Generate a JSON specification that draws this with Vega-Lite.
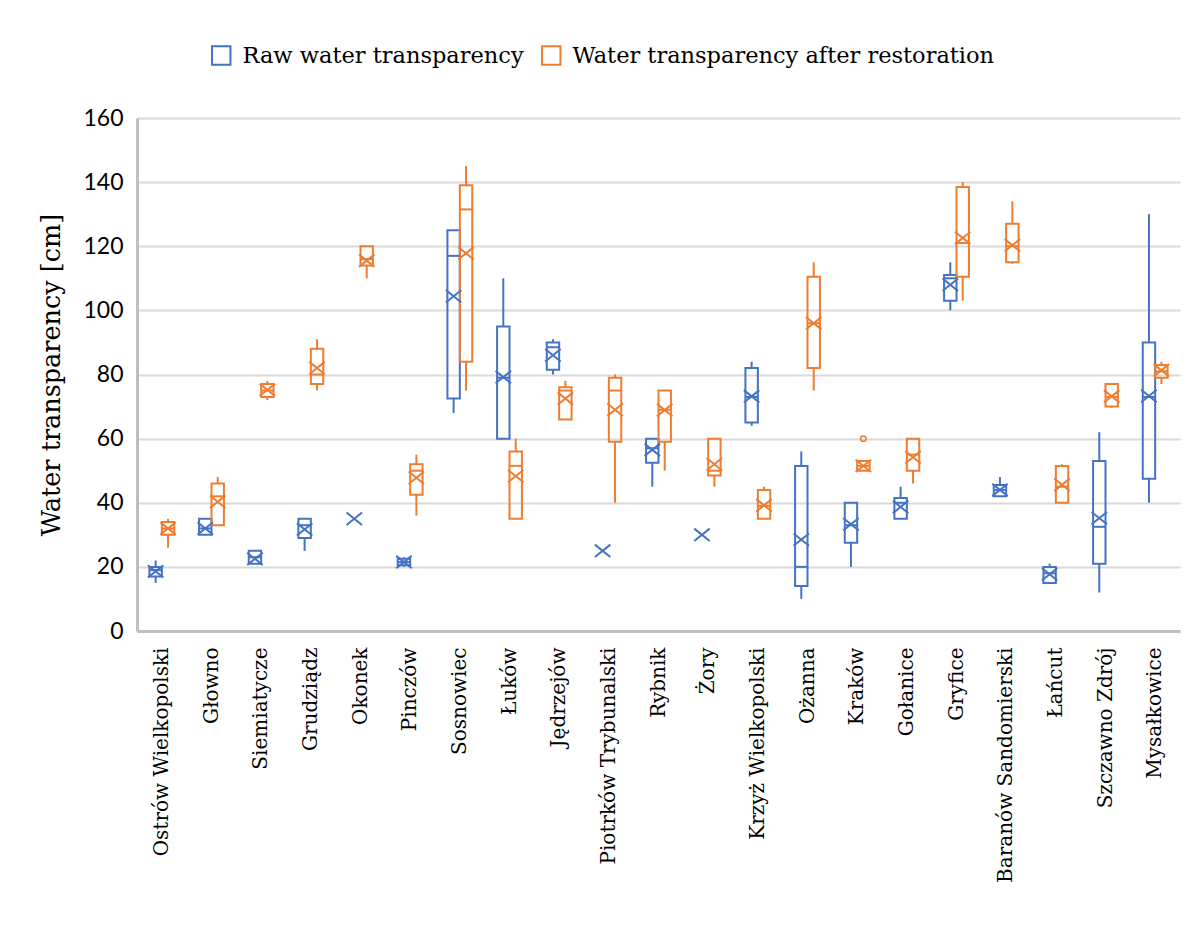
{
  "$schema": "https://vega.github.io/schema/vega-lite/v6.json",
  "autosize": {"type": "none"},
  "padding": {"left": 137, "top": 118, "right": 11, "bottom": 300},
  "width": 1043,
  "height": 513,
  "background": "white",
  "config": {
    "view": {"stroke": null},
    "axis": {"labelColor": "#000000", "titleColor": "#000000"}
  },
  "data": {
    "values": [
      {"site": "Ostrów Wielkopolski", "series": "Raw water transparency", "min": 15, "q1": 17, "median": 19, "q3": 20, "max": 22, "mean": 18.6, "outlier": null},
      {"site": "Ostrów Wielkopolski", "series": "Water transparency after restoration", "min": 26, "q1": 30, "median": 32, "q3": 34, "max": 35, "mean": 32, "outlier": null},
      {"site": "Głowno", "series": "Raw water transparency", "min": 30, "q1": 30, "median": 32, "q3": 35, "max": 35, "mean": 32, "outlier": null},
      {"site": "Głowno", "series": "Water transparency after restoration", "min": 33, "q1": 33, "median": 42, "q3": 46, "max": 48, "mean": 40.3, "outlier": null},
      {"site": "Siemiatycze", "series": "Raw water transparency", "min": 21, "q1": 21, "median": 23, "q3": 25, "max": 25, "mean": 22.5, "outlier": null},
      {"site": "Siemiatycze", "series": "Water transparency after restoration", "min": 72, "q1": 73, "median": 75, "q3": 77, "max": 78, "mean": 75.2, "outlier": null},
      {"site": "Grudziądz", "series": "Raw water transparency", "min": 25, "q1": 29, "median": 33, "q3": 35, "max": 35, "mean": 31.7, "outlier": null},
      {"site": "Grudziądz", "series": "Water transparency after restoration", "min": 75, "q1": 77, "median": 80, "q3": 88, "max": 91, "mean": 82, "outlier": null},
      {"site": "Okonek", "series": "Raw water transparency", "min": null, "q1": null, "median": null, "q3": null, "max": null, "mean": 35, "outlier": null},
      {"site": "Okonek", "series": "Water transparency after restoration", "min": 110, "q1": 114, "median": 116, "q3": 120, "max": 120, "mean": 115.5, "outlier": null},
      {"site": "Pinczów", "series": "Raw water transparency", "min": 20, "q1": 20.5, "median": 21.5, "q3": 22.5, "max": 23, "mean": 21.5, "outlier": null},
      {"site": "Pinczów", "series": "Water transparency after restoration", "min": 36, "q1": 42.5, "median": 50, "q3": 52, "max": 55, "mean": 47.8, "outlier": null},
      {"site": "Sosnowiec", "series": "Raw water transparency", "min": 68, "q1": 72.5, "median": 117, "q3": 125, "max": 125, "mean": 104.4, "outlier": null},
      {"site": "Sosnowiec", "series": "Water transparency after restoration", "min": 75, "q1": 84, "median": 131.5, "q3": 139, "max": 145, "mean": 117.8, "outlier": null},
      {"site": "Łuków", "series": "Raw water transparency", "min": 60, "q1": 60, "median": 79, "q3": 95, "max": 110, "mean": 79.2, "outlier": null},
      {"site": "Łuków", "series": "Water transparency after restoration", "min": 35, "q1": 35, "median": 51.5, "q3": 56, "max": 60, "mean": 48.3, "outlier": null},
      {"site": "Jędrzejów", "series": "Raw water transparency", "min": 80, "q1": 81.5, "median": 88.5, "q3": 90, "max": 91, "mean": 86, "outlier": null},
      {"site": "Jędrzejów", "series": "Water transparency after restoration", "min": 66, "q1": 66, "median": 75, "q3": 76, "max": 78, "mean": 72.5, "outlier": null},
      {"site": "Piotrków Trybunalski", "series": "Raw water transparency", "min": null, "q1": null, "median": null, "q3": null, "max": null, "mean": 25, "outlier": null},
      {"site": "Piotrków Trybunalski", "series": "Water transparency after restoration", "min": 40, "q1": 59, "median": 75, "q3": 79, "max": 80, "mean": 69, "outlier": null},
      {"site": "Rybnik", "series": "Raw water transparency", "min": 45, "q1": 52.5, "median": 57, "q3": 60, "max": 60, "mean": 56.5, "outlier": null},
      {"site": "Rybnik", "series": "Water transparency after restoration", "min": 50, "q1": 59, "median": 69, "q3": 75, "max": 75, "mean": 68.9, "outlier": null},
      {"site": "Żory", "series": "Raw water transparency", "min": null, "q1": null, "median": null, "q3": null, "max": null, "mean": 30, "outlier": null},
      {"site": "Żory", "series": "Water transparency after restoration", "min": 45, "q1": 48.5, "median": 50, "q3": 60, "max": 60, "mean": 52, "outlier": null},
      {"site": "Krzyż Wielkopolski", "series": "Raw water transparency", "min": 64, "q1": 65, "median": 73, "q3": 82, "max": 84, "mean": 73.2, "outlier": null},
      {"site": "Krzyż Wielkopolski", "series": "Water transparency after restoration", "min": 35, "q1": 35, "median": 39, "q3": 44, "max": 45, "mean": 39.2, "outlier": null},
      {"site": "Ożanna", "series": "Raw water transparency", "min": 10, "q1": 14, "median": 20, "q3": 51.5, "max": 56, "mean": 28.5, "outlier": null},
      {"site": "Ożanna", "series": "Water transparency after restoration", "min": 75, "q1": 82, "median": 96, "q3": 110.5, "max": 115, "mean": 96, "outlier": null},
      {"site": "Kraków", "series": "Raw water transparency", "min": 20, "q1": 27.5, "median": 33, "q3": 40, "max": 40, "mean": 33.3, "outlier": null},
      {"site": "Kraków", "series": "Water transparency after restoration", "min": 50, "q1": 50, "median": 51.5, "q3": 53, "max": 53, "mean": 51.5, "outlier": 60},
      {"site": "Gołanice", "series": "Raw water transparency", "min": 35, "q1": 35, "median": 40, "q3": 41.5, "max": 45, "mean": 38.7, "outlier": null},
      {"site": "Gołanice", "series": "Water transparency after restoration", "min": 46, "q1": 50, "median": 55, "q3": 60, "max": 60, "mean": 54.2, "outlier": null},
      {"site": "Gryfice", "series": "Raw water transparency", "min": 100, "q1": 103, "median": 110, "q3": 111, "max": 115, "mean": 108, "outlier": null},
      {"site": "Gryfice", "series": "Water transparency after restoration", "min": 103, "q1": 110.5, "median": 121, "q3": 138.5, "max": 140, "mean": 122.6, "outlier": null},
      {"site": "Baranów Sandomierski", "series": "Raw water transparency", "min": 42, "q1": 42, "median": 44, "q3": 45.5, "max": 48, "mean": 44, "outlier": null},
      {"site": "Baranów Sandomierski", "series": "Water transparency after restoration", "min": 114.5, "q1": 115, "median": 120, "q3": 127, "max": 134, "mean": 120.3, "outlier": null},
      {"site": "Łańcut", "series": "Raw water transparency", "min": 15, "q1": 15, "median": 18, "q3": 20, "max": 21, "mean": 17.7, "outlier": null},
      {"site": "Łańcut", "series": "Water transparency after restoration", "min": 40, "q1": 40, "median": 45, "q3": 51.5, "max": 52, "mean": 45.6, "outlier": null},
      {"site": "Szczawno Zdrój", "series": "Raw water transparency", "min": 12, "q1": 21, "median": 32.5, "q3": 53, "max": 62, "mean": 35.2, "outlier": null},
      {"site": "Szczawno Zdrój", "series": "Water transparency after restoration", "min": 69.5, "q1": 70, "median": 73, "q3": 77, "max": 77, "mean": 73.2, "outlier": null},
      {"site": "Mysałkowice", "series": "Raw water transparency", "min": 40, "q1": 47.5, "median": 73, "q3": 90, "max": 130, "mean": 73.3, "outlier": null},
      {"site": "Mysałkowice", "series": "Water transparency after restoration", "min": 77, "q1": 79, "median": 81, "q3": 83, "max": 84, "mean": 81.3, "outlier": null}
    ]
  },
  "encoding": {
    "x": {
      "field": "site",
      "type": "nominal",
      "sort": null,
      "scale": {"paddingInner": 0, "paddingOuter": 0},
      "axis": {
        "title": null,
        "labelAngle": -90,
        "labelAlign": "right",
        "labelBaseline": "middle",
        "labelFont": "DejaVu Serif",
        "labelFontSize": 20,
        "labelPadding": 16,
        "ticks": false,
        "domainColor": "#bfbfbf",
        "domainWidth": 3,
        "labelLimit": 400
      }
    },
    "xOffset": {
      "field": "series",
      "type": "nominal",
      "scale": {"domain": ["Raw water transparency", "Water transparency after restoration"], "paddingInner": 0, "paddingOuter": 1.07}
    },
    "color": {
      "field": "series",
      "type": "nominal",
      "scale": {"domain": ["Raw water transparency", "Water transparency after restoration"], "range": ["#4472C4", "#ED7D31"]},
      "legend": {
        "title": null,
        "orient": "none",
        "direction": "horizontal",
        "legendX": 73,
        "legendY": -74,
        "symbolType": "square",
        "symbolSize": 340,
        "symbolStrokeWidth": 2,
        "labelFont": "DejaVu Serif",
        "labelFontSize": 22.5,
        "labelColor": "#000000",
        "labelOffset": 10,
        "columnPadding": 14,
        "labelLimit": 500,
        "encode": {"symbols": {"update": {"fill": {"value": "transparent"}, "fillOpacity": {"value": 0}, "strokeWidth": {"value": 2}}}}
      }
    }
  },
  "layer": [
    {
      "mark": {"type": "rule", "strokeWidth": 2},
      "encoding": {
        "y": {
          "field": "min",
          "type": "quantitative",
          "scale": {"domain": [0, 160]},
          "axis": {
            "values": [0, 20, 40, 60, 80, 100, 120, 140, 160],
            "title": "Water transparency [cm]",
            "titleFont": "DejaVu Serif",
            "titleFontSize": 25.5,
            "titleFontWeight": "normal",
            "titlePadding": 18,
            "labelFont": "Lato",
            "labelFontSize": 23,
            "labelPadding": 14,
            "ticks": false,
            "gridColor": "#d9d9d9",
            "gridWidth": 2,
            "domainColor": "#bfbfbf",
            "domainWidth": 3
          }
        },
        "y2": {"field": "q1"}
      }
    },
    {
      "mark": {"type": "rule", "strokeWidth": 2},
      "encoding": {
        "y": {"field": "q3", "type": "quantitative"},
        "y2": {"field": "max"}
      }
    },
    {
      "mark": {"type": "bar", "filled": false, "strokeWidth": 2},
      "encoding": {
        "y": {"field": "q1", "type": "quantitative"},
        "y2": {"field": "q3"}
      }
    },
    {
      "mark": {"type": "tick", "size": 12, "thickness": 2, "opacity": 1},
      "encoding": {
        "y": {"field": "median", "type": "quantitative"}
      }
    },
    {
      "mark": {"type": "point", "shape": "M-1,-0.8L1,0.8M-1,0.8L1,-0.8", "size": 240, "filled": false, "strokeWidth": 2, "opacity": 1},
      "encoding": {
        "y": {"field": "mean", "type": "quantitative"}
      }
    },
    {
      "mark": {"type": "point", "shape": "circle", "size": 30, "filled": false, "strokeWidth": 1.5, "opacity": 1},
      "encoding": {
        "y": {"field": "outlier", "type": "quantitative"}
      }
    }
  ]
}
